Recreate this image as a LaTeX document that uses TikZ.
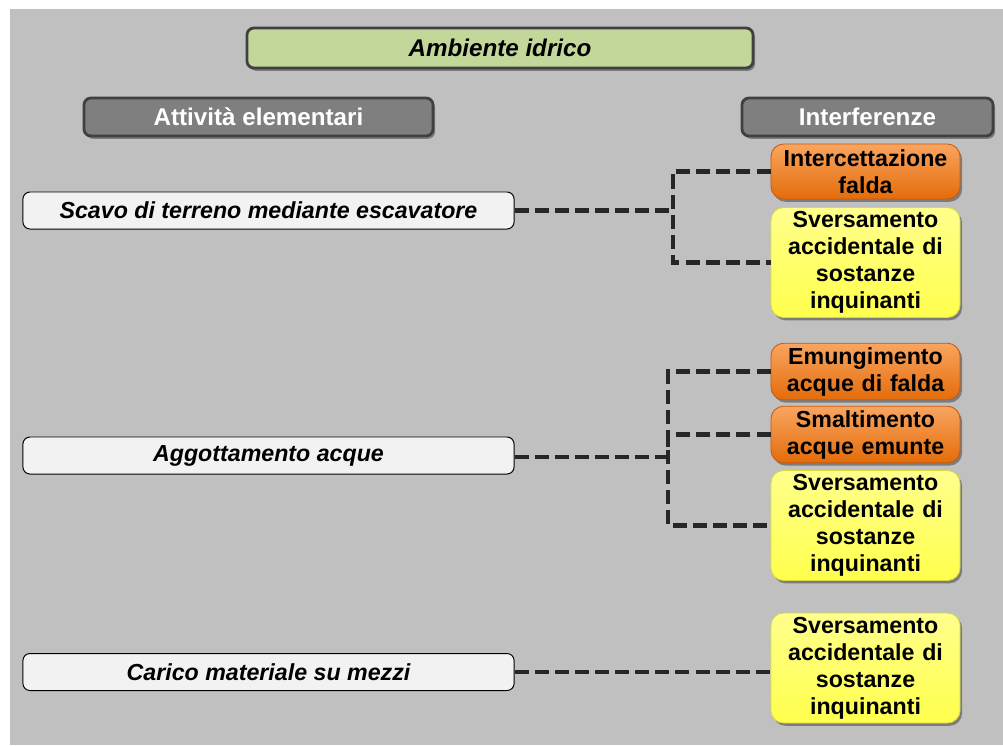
\documentclass[tikz,border=0pt]{standalone}
\usepackage{fontspec}
\setmainfont{Liberation Sans}
\usetikzlibrary{positioning,shadows}
\definecolor{bggray}{HTML}{C0C0C0}
\definecolor{edgegray}{HTML}{404040}
\definecolor{headgray}{HTML}{7F7F7F}
\definecolor{titlegreen}{HTML}{C4D79B}
\definecolor{actfill}{HTML}{F2F2F2}
\definecolor{orangetop}{HTML}{F9A560}
\definecolor{orangebot}{HTML}{E46C0A}
\definecolor{orangeedge}{HTML}{C55A11}
\definecolor{yellowtop}{HTML}{FFFF8C}
\definecolor{yellowbot}{HTML}{FFFF4D}
\definecolor{yellowedge}{HTML}{D9D940}
\definecolor{linkgray}{HTML}{262626}
\tikzset{
  softshadow/.style={drop shadow={shadow xshift=1.5pt, shadow yshift=-2pt, opacity=0.35, fill=black}},
  header/.style={draw=edgegray, line width=2pt, rounded corners=5pt, fill=headgray, text=white,
                 font=\bfseries\fontsize{17.2}{20}\selectfont, minimum height=0.95cm, softshadow},
  title/.style={header, fill=titlegreen, text=black, font=\bfseries\itshape\fontsize{17.2}{20}\selectfont,
                minimum width=12.65cm, minimum height=1.0cm},
  activity/.style={draw=black, line width=0.7pt, rounded corners=5pt, fill=actfill,
                   font=\bfseries\itshape\fontsize{16.5}{19}\selectfont,
                   minimum width=12.275cm, minimum height=0.925cm},
  effect/.style={rounded corners=9pt, align=center, text width=4.525cm, inner sep=0.1cm,
                 font=\bfseries\fontsize{16.5}{19.2}\selectfont, softshadow},
  major/.style={effect, draw=orangeedge, line width=0.6pt, top color=orangetop, bottom color=orangebot,
                minimum height=1.4cm},
  minor/.style={effect, draw=yellowedge, line width=0.6pt, top color=yellowtop, bottom color=yellowbot,
                minimum height=2.75cm},
  link/.style={draw=linkgray, line width=3.3pt, dash pattern=on 10pt off 4.3pt}
}
\begin{document}
\begin{tikzpicture}[x=0.025cm, y=-0.025cm]
  % background
  \useasboundingbox (0,0) rectangle (1003,745);
  \fill[white] (0,0) rectangle (1003,745);
  \fill[bggray] (10,9) rectangle (1003,745);

  % headings
  \node[title] (env) at (500,48) {Ambiente idrico};
  \node[header, minimum width=8.725cm] (acthead) at (258.5,117) {Attività elementari};
  \node[header, minimum width=6.275cm] (inthead) at (867.5,117) {Interferenze};

  % elementary activities
  \node[activity] (scavo) at (268.5,210.5) {Scavo di terreno mediante escavatore};
  \node[activity] (aggott) at (268.5,455.5) {Aggottamento acque};
  \node[activity] (carico) at (268.5,672) {Carico materiale su mezzi};

  % interferences
  \node[major, minimum height=1.375cm] (interc) at (865.5,171.5) {Intercettazione\\falda};
  \node[minor] (svers1) at (865.5,262.5) {Sversamento\\accidentale di\\sostanze\\inquinanti};
  \node[major] (emung) at (865.5,371.5) {Emungimento\\acque di falda};
  \node[major] (smalt) at (865.5,434.5) {Smaltimento\\acque emunte};
  \node[minor] (svers2) at (865.5,525.5) {Sversamento\\accidentale di\\sostanze\\inquinanti};
  \node[minor] (svers3) at (865.5,668) {Sversamento\\accidentale di\\sostanze\\inquinanti};

  % connectors
  \coordinate (j1) at (673,210.5);
  \coordinate (j2) at (668,457);
  \draw[link] (scavo.east) -- (j1);
  \draw[link] (interc.west) -| (j1) |- (svers1.west);
  \draw[link] (aggott.east |- j2) -- (j2);
  \draw[link] (emung.west) -| (j2) |- (svers2.west);
  \draw[link] (smalt.west) -| (j2);
  \draw[link] (carico.east) -- (svers3.west |- carico.east);
\end{tikzpicture}
\end{document}
